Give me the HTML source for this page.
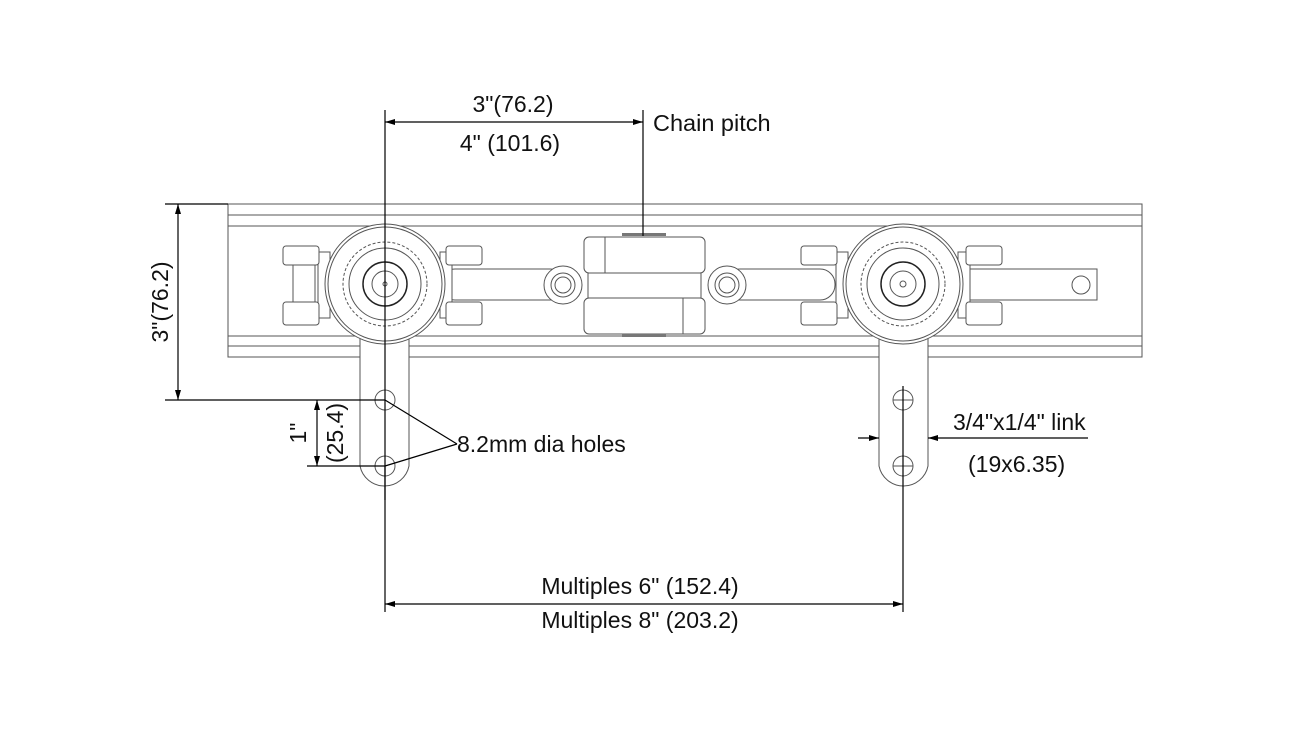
<!DOCTYPE html>
<html><head><meta charset="utf-8"><style>
html,body{margin:0;padding:0;background:#fff;}
svg{display:block;}
text{font-family:"Liberation Sans",sans-serif;fill:#111;}
</style></head><body>
<svg width="1300" height="731" viewBox="0 0 1300 731" xmlns="http://www.w3.org/2000/svg">
<defs>
<marker id="a" viewBox="0 0 10 6" refX="10" refY="3" markerWidth="20" markerHeight="6" markerUnits="userSpaceOnUse" orient="auto-start-reverse"><path d="M0,0L10,3L0,6z" fill="#000"/></marker>
</defs>
<g fill="none" stroke="#555" stroke-width="1">
<rect x="228" y="204" width="914" height="153"/>
<line x1="228" y1="215" x2="1142" y2="215"/>
<line x1="228" y1="226" x2="1142" y2="226"/>
<line x1="228" y1="336" x2="1142" y2="336"/>
<line x1="228" y1="346" x2="1142" y2="346"/>
<rect x="440" y="269" width="125" height="31" rx="15" fill="#fff"/>
<rect x="725" y="269" width="110" height="31" rx="15" fill="#fff"/>
<rect x="965" y="269" width="132" height="31" fill="#fff"/>
<circle cx="1081" cy="285" r="9"/>
<g fill="#fff">
<rect x="318" y="252" width="12" height="66"/><rect x="440" y="252" width="12" height="66"/>
<rect x="836" y="252" width="12" height="66"/><rect x="958" y="252" width="12" height="66"/>
<rect x="283" y="246" width="36" height="19" rx="3"/><rect x="283" y="302" width="36" height="23" rx="3"/>
<rect x="293" y="265" width="22" height="37"/>
<rect x="446" y="246" width="36" height="19" rx="3"/><rect x="446" y="302" width="36" height="23" rx="3"/>
<rect x="801" y="246" width="36" height="19" rx="3"/><rect x="801" y="302" width="36" height="23" rx="3"/>
<rect x="966" y="246" width="36" height="19" rx="3"/><rect x="966" y="302" width="36" height="23" rx="3"/>
</g>
<rect x="584" y="237" width="121" height="36" rx="5" fill="#fff"/>
<rect x="584" y="298" width="121" height="36" rx="5" fill="#fff"/>
<line x1="605" y1="237" x2="605" y2="273"/><line x1="683" y1="298" x2="683" y2="334"/>
<rect x="588" y="273" width="113" height="25" fill="#fff"/>
<rect x="622" y="233" width="44" height="3" fill="#777" stroke="none"/>
<rect x="622" y="334" width="44" height="3" fill="#777" stroke="none"/>
<circle cx="563" cy="285" r="19" fill="#fff"/><circle cx="563" cy="285" r="12"/><circle cx="563" cy="285" r="8"/>
<circle cx="727" cy="285" r="19" fill="#fff"/><circle cx="727" cy="285" r="12"/><circle cx="727" cy="285" r="8"/>
<path d="M360,330 V466 A25,25 0 0 0 409,466 V330" fill="#fff"/>
<path d="M879,330 V466 A25,25 0 0 0 928,466 V330" fill="#fff"/>
<circle cx="385" cy="400" r="10"/><circle cx="385" cy="466" r="10"/>
<circle cx="903" cy="400" r="10"/><circle cx="903" cy="466" r="10"/>
<line x1="893" y1="400" x2="913" y2="400"/><line x1="893" y1="466" x2="913" y2="466"/>
<circle cx="385" cy="284" r="60" fill="#fff"/><circle cx="385" cy="284" r="57"/>
<circle cx="385" cy="284" r="42" stroke-dasharray="3 2"/><circle cx="385" cy="284" r="36"/>
<circle cx="385" cy="284" r="22" stroke="#222" stroke-width="1.5"/><circle cx="385" cy="284" r="13"/><circle cx="385" cy="284" r="2"/>
<circle cx="903" cy="284" r="60" fill="#fff"/><circle cx="903" cy="284" r="57"/>
<circle cx="903" cy="284" r="42" stroke-dasharray="3 2"/><circle cx="903" cy="284" r="36"/>
<circle cx="903" cy="284" r="22" stroke="#222" stroke-width="1.5"/><circle cx="903" cy="284" r="13"/><circle cx="903" cy="284" r="3"/>
</g>
<g stroke="#000" stroke-width="1.2" fill="none">
<line x1="385" y1="110" x2="385" y2="500"/>
<line x1="643" y1="110" x2="643" y2="236"/>
<line x1="385" y1="122" x2="643" y2="122" marker-start="url(#a)" marker-end="url(#a)"/>
<line x1="165" y1="204" x2="228" y2="204"/>
<line x1="165" y1="400" x2="385" y2="400"/>
<line x1="178" y1="204" x2="178" y2="400" marker-start="url(#a)" marker-end="url(#a)"/>
<line x1="307" y1="466" x2="385" y2="466"/>
<line x1="317" y1="400" x2="317" y2="466" marker-start="url(#a)" marker-end="url(#a)"/>
<line x1="385" y1="400" x2="457" y2="444"/><line x1="385" y1="466" x2="457" y2="444"/>
<line x1="385" y1="466" x2="385" y2="612"/>
<line x1="903" y1="386" x2="903" y2="612"/>
<line x1="385" y1="604" x2="903" y2="604" marker-start="url(#a)" marker-end="url(#a)"/>
<line x1="858" y1="438" x2="879" y2="438" marker-end="url(#a)"/>
<line x1="1088" y1="438" x2="928" y2="438" marker-end="url(#a)"/>
</g>
<g font-size="23">
<text x="513" y="112" text-anchor="middle">3"(76.2)</text>
<text x="510" y="151" text-anchor="middle">4" (101.6)</text>
<text x="653" y="131" font-size="23.5">Chain pitch</text>
<text x="457" y="452">8.2mm dia holes</text>
<text x="953" y="430">3/4"x1/4" link</text>
<text x="968" y="472">(19x6.35)</text>
<text x="640" y="594" text-anchor="middle">Multiples 6" (152.4)</text>
<text x="640" y="628" text-anchor="middle">Multiples 8" (203.2)</text>
<text transform="translate(168,302) rotate(-90)" text-anchor="middle">3"(76.2)</text>
<text transform="translate(306,433) rotate(-90)" text-anchor="middle">1"</text>
<text transform="translate(343,433) rotate(-90)" text-anchor="middle">(25.4)</text>
</g>
</svg>
</body></html>
